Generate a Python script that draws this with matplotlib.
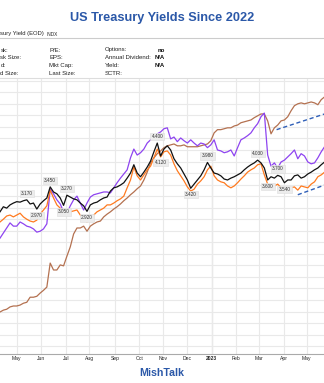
import numpy as np
import matplotlib
matplotlib.use("Agg")
import matplotlib.pyplot as plt
from matplotlib.lines import Line2D

W, H = 324, 383

# samples every STEP business days starting at START
START = "2022-04-11"
STEP = 3

BILL_3M = [0.74, 0.78, 0.80, 0.85, 0.87, 0.87, 0.89, 0.93, 0.95, 1.06,
           1.06, 1.08, 1.15, 1.21, 1.28, 1.80, 1.65, 1.65, 1.76, 1.74,
           1.95, 2.15, 2.43, 2.56, 2.56, 2.60, 2.49, 2.60, 2.65, 2.69,
           2.71, 2.80, 2.86, 2.91, 2.97, 3.02, 3.08, 3.15, 3.21, 3.28,
           3.34, 3.41, 3.47, 3.60, 3.77, 3.97, 4.08, 4.17, 4.23, 4.30,
           4.34, 4.36, 4.38, 4.34, 4.34, 4.36, 4.32, 4.32, 4.32, 4.32,
           4.34, 4.36, 4.38, 4.45, 4.62, 4.69, 4.69, 4.71, 4.73, 4.73,
           4.77, 4.79, 4.84, 4.86, 4.88, 4.90, 4.95, 4.99, 5.03, 5.03,
           4.88, 4.60, 4.73, 4.79, 4.88, 4.90, 4.97, 5.10, 5.21, 5.25,
           5.27, 5.25, 5.27, 5.29, 5.27, 5.23, 5.34, 5.40]

NOTE_2Y = [2.34, 2.45, 2.56, 2.67, 2.60, 2.60, 2.69, 2.65, 2.60, 2.58,
           2.54, 2.47, 2.49, 2.54, 2.65, 3.40, 3.30, 3.17, 3.08, 2.91,
           2.88, 3.04, 3.17, 3.25, 3.10, 2.95, 3.10, 3.23, 3.28, 3.30,
           3.32, 3.34, 3.34, 3.32, 3.43, 3.54, 3.64, 3.73, 3.82, 4.08,
           4.27, 4.14, 4.19, 4.27, 4.40, 4.47, 4.53, 4.60, 4.64, 4.71,
           4.73, 4.49, 4.53, 4.43, 4.51, 4.45, 4.40, 4.47, 4.40, 4.34,
           4.40, 4.38, 4.30, 4.36, 4.47, 4.25, 4.23, 4.19, 4.21, 4.25,
           4.12, 4.30, 4.47, 4.51, 4.56, 4.62, 4.73, 4.82, 4.97, 5.05,
           4.14, 3.90, 3.97, 3.86, 3.99, 4.03, 4.10, 4.17, 4.25, 4.06,
           4.17, 4.12, 3.99, 3.95, 3.97, 4.08, 4.21, 4.32]

NOTE_10Y = [2.69, 2.75, 2.82, 2.84, 2.80, 2.84, 2.88, 2.80, 2.75, 2.71,
            2.69, 2.73, 2.86, 2.95, 3.04, 3.38, 3.21, 3.06, 2.99, 2.88,
            2.84, 2.91, 2.93, 2.95, 2.84, 2.75, 2.69, 2.78, 2.84, 2.91,
            2.95, 2.99, 3.06, 3.06, 3.10, 3.15, 3.19, 3.25, 3.43, 3.60,
            3.88, 3.69, 3.60, 3.71, 3.82, 3.90, 4.08, 4.27, 4.10, 4.21,
            4.23, 4.14, 3.95, 3.80, 3.69, 3.58, 3.45, 3.36, 3.40, 3.51,
            3.58, 3.67, 3.82, 3.90, 3.69, 3.60, 3.56, 3.54, 3.47, 3.43,
            3.47, 3.54, 3.62, 3.69, 3.77, 3.82, 3.86, 3.93, 3.95, 3.71,
            3.51, 3.43, 3.47, 3.51, 3.43, 3.38, 3.34, 3.43, 3.45, 3.38,
            3.47, 3.45, 3.43, 3.51, 3.56, 3.67, 3.71, 3.77]

BOND_30Y = [2.91, 3.02, 2.99, 3.06, 3.10, 3.13, 3.12, 3.15, 3.17, 3.08,
            3.10, 2.97, 3.08, 3.15, 3.21, 3.45, 3.34, 3.30, 3.21, 3.05,
            3.27, 3.23, 3.19, 3.17, 3.10, 3.04, 2.92, 3.06, 3.10, 3.12,
            3.17, 3.21, 3.23, 3.36, 3.43, 3.45, 3.49, 3.54, 3.64, 3.75,
            3.93, 3.75, 3.67, 3.77, 3.88, 4.01, 4.21, 4.40, 4.12, 4.27,
            4.34, 4.25, 4.06, 3.95, 3.86, 3.73, 3.60, 3.42, 3.51, 3.60,
            3.69, 3.82, 3.98, 3.86, 3.75, 3.73, 3.69, 3.62, 3.60, 3.64,
            3.67, 3.71, 3.75, 3.82, 3.88, 3.93, 3.97, 4.03, 3.97, 3.86,
            3.60, 3.67, 3.64, 3.70, 3.67, 3.54, 3.60, 3.60, 3.69, 3.71,
            3.64, 3.67, 3.73, 3.77, 3.82, 3.86, 3.93, 3.99]

# swing highs / lows of the 30-year that get a value tag
PIVOT_HIGHS = [8, 15, 20, 47, 62, 77, 83]
PIVOT_LOWS = [11, 19, 26, 48, 57, 80, 85]

# trend lines (business-day index, yield)
TREND_BILL_X, TREND_BILL_Y = [248, 291], [4.69, 5.03]
TREND_NOTE_X, TREND_NOTE_Y = [267, 291], [3.28, 3.49]

MONTH_STARTS = ["2022-05-01", "2022-06-01", "2022-07-01", "2022-08-01",
                "2022-09-01", "2022-10-01", "2022-11-01", "2022-12-01",
                "2023-01-01", "2023-02-01", "2023-03-01", "2023-04-01",
                "2023-05-01"]
MONTH_LABELS = ["May", "Jun", "Jul", "Aug", "Sep", "Oct", "Nov", "Dec",
                "2023", "Feb", "Mar", "Apr", "May"]

BLUE = "#2b58a8"
FONT = "Liberation Sans"


def px(x, y):
    return x / W, 1 - y / H


fig = plt.figure(figsize=(W / 100, H / 100), dpi=100)
fig.patch.set_facecolor("white")

# header
fig.text(*px(162, 20.5), "US Treasury Yields Since 2022", ha="center",
         va="baseline", fontsize=9.2, fontweight="bold", color=BLUE,
         family=FONT)
fig.text(*px(0.5, 35.5), "sury Yield (EOD)", ha="left",
         va="baseline", fontsize=4.2, color="#222222", family=FONT)
fig.text(*px(46.5, 35.5), "INDX", ha="left", va="baseline", fontsize=3.4,
         color="#222222", family=FONT)
fig.add_artist(Line2D([0, 1], [1 - 37.8 / H] * 2, color="#cccccc", lw=0.8))

rows_y = [51.5, 59.3, 67.0, 74.8]
cols = [
    (0.5, ["sk:", "sk Size:", "d:", "d Size:"]),
    (49, ["P/E:", "EPS:", "Mkt Cap:", "Last Size:"]),
    (105, ["Options:", "Annual Dividend:", "Yield:", "SCTR:"]),
]
for cx, items in cols:
    for ry, t in zip(rows_y, items):
        fig.text(*px(cx, ry), t, ha="left", va="baseline", fontsize=4.3,
                 color="#222222", family=FONT)
for ry, t in zip(rows_y, ["no", "N/A", "N/A", ""]):
    fig.text(*px(165, ry), t, ha="right", va="baseline", fontsize=4.3,
             fontweight="bold", color="#111111", family=FONT)

# price panel
top, bottom = 77.5, 354
ax = fig.add_axes([0, 1 - bottom / H, 1, (bottom - top) / H])
ax.set_facecolor("white")

x = np.arange(len(BOND_30Y)) * STEP
ticks = np.busday_count(START, MONTH_STARTS)

ax.set_yticks(np.arange(0, 5.8, 0.25))
ax.set_xticks(ticks)
ax.set_xticklabels(MONTH_LABELS, fontsize=3.6, family=FONT, color="#222222")
for lbl in ax.get_xticklabels():
    if lbl.get_text() == "2023":
        lbl.set_fontweight("bold")
ax.tick_params(axis="y", length=0, labelleft=False)
ax.tick_params(axis="x", length=0, pad=1.2)
ax.grid(True, color="#e9e9e9", lw=0.8)
ax.set_axisbelow(True)
ax.axvline(ticks[8], color="#d2d2d2", lw=0.9, zorder=0.5)

for side in ["left", "right"]:
    ax.spines[side].set_visible(False)
ax.spines["top"].set_color("#dddddd")
ax.spines["top"].set_linewidth(0.8)
ax.spines["bottom"].set_color("#aaaaaa")
ax.spines["bottom"].set_linewidth(0.8)

ax.plot(x, BILL_3M, color="#b47150", lw=0.9)
ax.plot(x, NOTE_2Y, color="#8e44f0", lw=0.9)
ax.plot(x, NOTE_10Y, color="#ff7a1f", lw=0.9)
ax.plot(x, BOND_30Y, color="#111111", lw=0.9)

ax.plot(TREND_BILL_X, TREND_BILL_Y, color="#2f5fb8", lw=1.0, ls=(0, (3, 2)))
ax.plot(TREND_NOTE_X, TREND_NOTE_Y, color="#2f5fb8", lw=1.0, ls=(0, (3, 2)))

box = dict(boxstyle="square,pad=0.25", fc="#ececec", ec="#dddddd", lw=0.4)
for idxs, dy in [(PIVOT_HIGHS, 6.5), (PIVOT_LOWS, -6.5)]:
    for i in idxs:
        ax.annotate(f"{BOND_30Y[i]:.3f}", (x[i], BOND_30Y[i]),
                    xytext=(0, dy), textcoords="offset pixels",
                    ha="center", va="center", fontsize=3.4, color="#333333",
                    family=FONT, bbox=box)

ax.set_xlim(0, 290.5)
ax.set_ylim(-0.17, 5.82)

fig.text(*px(162, 376), "MishTalk", ha="center", va="baseline",
         fontsize=7.7, fontweight="bold", color=BLUE, family=FONT)

fig.savefig("out.png", dpi=100)
